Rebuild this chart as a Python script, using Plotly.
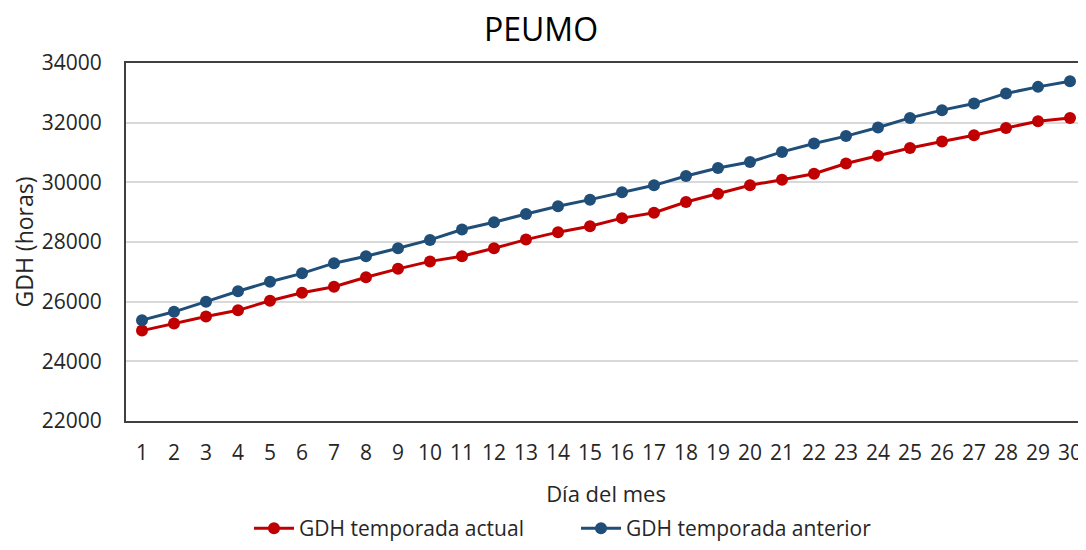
import plotly.graph_objects as go

dias = list(range(1, 31))
actual = [25030, 25270, 25500, 25710, 26030, 26300, 26500, 26820, 27100, 27350,
          27520, 27790, 28080, 28330, 28530, 28800, 28980, 29340, 29620, 29900,
          30090, 30290, 30630, 30890, 31150, 31370, 31580, 31820, 32050, 32160]
anterior = [25380, 25660, 26000, 26350, 26670, 26950, 27290, 27520, 27790, 28070,
            28420, 28660, 28940, 29200, 29420, 29670, 29900, 30210, 30480, 30680,
            31020, 31300, 31550, 31840, 32160, 32420, 32640, 32980, 33200, 33390]
y_ticks = [22000, 24000, 26000, 28000, 30000, 32000, 34000]
y_labels = [str(v) for v in y_ticks]

FONT = "Open Sans"
RED = "#C00000"
BLUE = "#1F4E79"
TXT = "#262626"

# page body adds an 8px offset; figure is sized so page fits 1086x550 exactly
W, H = 1078, 542
L, R, T, B = 118, 0, 55, 129
PW = W - L - R
PH = H - T - B

fig = go.Figure()
fig.add_trace(go.Scatter(x=dias, y=actual, mode="lines+markers", name="GDH temporada actual",
                         line=dict(color=RED, width=3), marker=dict(color=RED, size=12),
                         legend="legend"))
fig.add_trace(go.Scatter(x=dias, y=anterior, mode="lines+markers", name="GDH temporada anterior",
                         line=dict(color=BLUE, width=3), marker=dict(color=BLUE, size=12),
                         legend="legend2"))

leg_y = (PH + T - (H - 1)) / PH  # legend box bottom sits at the figure's bottom edge
leg_common = dict(orientation="h", y=leg_y, yanchor="bottom", xanchor="left",
                  font=dict(family=FONT, size=21, color=TXT), itemwidth=40,
                  bgcolor="rgba(0,0,0,0)")

fig.update_layout(
    width=W, height=H,
    margin=dict(l=L, r=R, t=T, b=B, autoexpand=False),
    paper_bgcolor="white", plot_bgcolor="white",
    font=dict(family=FONT, color=TXT, size=21),
    title=dict(text="PEUMO", x=533 / W, xanchor="center", y=1 - 22 / H, yanchor="middle",
               font=dict(family=FONT, size=32, color="#000000")),
    showlegend=True,
    legend=dict(x=(241 - L) / PW, **leg_common),
    legend2=dict(x=(568 - L) / PW, **leg_common),
    xaxis=dict(range=[0.5, 30.5], tickmode="array", tickvals=dias, ticktext=[str(d) for d in dias],
               showgrid=False, showline=True, linecolor="#404040", linewidth=2, mirror=True,
               ticks="", ticklabelstandoff=12, tickfont=dict(size=21), automargin=False,
               title=dict(text="Día del mes", standoff=21, font=dict(size=22)), zeroline=False),
    yaxis=dict(range=[22000, 34000], tickmode="array", tickvals=y_ticks, ticktext=y_labels,
               showgrid=True, gridcolor="#D9D9D9", gridwidth=1.5,
               showline=True, linecolor="#404040", linewidth=2, mirror=True,
               ticks="", ticklabelstandoff=18, tickfont=dict(size=21), automargin=False,
               title=dict(text="GDH (horas)", standoff=10, font=dict(size=23)), zeroline=False),
)

fig.write_html("out.html")
